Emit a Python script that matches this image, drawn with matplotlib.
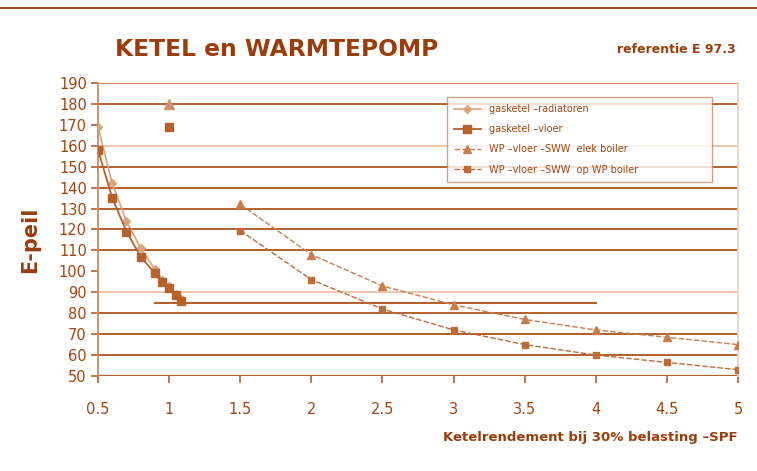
import matplotlib.pyplot as plt
import numpy as np

# ---- data
ketel_x = [0.5, 0.6, 0.7, 0.8, 0.9, 0.95, 1.0, 1.05, 1.08]
radiatoren = [169, 142, 124, 111, 101, 96, 93, 89, 87]
vloer = [158, 135, 119, 107, 99, 95, 92, 88.5, 86]

wp_x = [1.5, 2, 2.5, 3, 3.5, 4, 4.5, 5]
wp_elek = [132, 108, 93, 84, 77, 72, 68.5, 65]
wp_boiler = [119.5, 96, 82, 72, 65, 60, 56.5, 53]

# losse punten bij x=1
los_x = [1.0]
los_elek = [180]
los_boiler = [169]

# korte referentielijn
ref_x = [0.9, 4.0]
ref_y = [85, 85]

grid_dark = [180, 150, 140, 130, 120, 110, 80, 70, 60]
grid_light = [160, 90]

labels = ["gasketel \u2013radiatoren", "gasketel \u2013vloer",
          "WP \u2013vloer \u2013SWW  elek boiler", "WP \u2013vloer \u2013SWW  op WP boiler"]

text_brown = "#a0440f"

fig = plt.figure(figsize=(7.57, 4.71), dpi=100)
ax = fig.add_axes([0.1295, 0.2017, 0.8455, 0.6221])

for g in grid_dark:
    ax.axhline(g, color="#b0602e", lw=1.4, zorder=1)
for g in grid_light:
    ax.axhline(g, color="#e9c7ac", lw=1.4, zorder=1)
ax.axhline(190, color="#c98a60", lw=1.4, zorder=1)
ax.axhline(50, color="#b0602e", lw=1.6, zorder=1)

ax.plot(ref_x, ref_y, color="#b0602e", lw=1.5, zorder=2)

ax.plot(ketel_x, radiatoren, color="#dba47e", marker="D", ms=4, lw=1.2,
        label=labels[0], zorder=3)
ax.plot(ketel_x, vloer, color="#b4612c", marker="s", ms=6, lw=1.3,
        label=labels[1], zorder=4)
ax.plot(wp_x, wp_elek, color="#c77e4f", marker="^", ms=6, lw=1.0,
        ls=(0, (4, 1.5)), label=labels[2], zorder=3)
ax.plot(wp_x, wp_boiler, color="#bd6b3a", marker="s", ms=5, lw=1.0,
        ls=(0, (4, 1.5)), label=labels[3], zorder=3)
ax.plot(los_x, los_elek, color="#d09070", marker="^", ms=7, ls="none", zorder=3)
ax.plot(los_x, los_boiler, color="#b4612c", marker="s", ms=6, ls="none", zorder=3)

ax.set_xlim(0.5, 5)
ax.set_ylim(50, 190)
ax.set_xticks(np.arange(0.5, 5.01, 0.5))
ax.set_xticklabels(["0.5", "1", "1.5", "2", "2.5", "3", "3.5", "4", "4.5", "5"])
ax.set_yticks(np.arange(50, 191, 10))

for s in ["top", "bottom"]:
    ax.spines[s].set_visible(False)
ax.spines["left"].set_color("#c98a60")
ax.spines["left"].set_linewidth(1.3)
ax.spines["right"].set_color("#ecd0bc")
ax.spines["right"].set_linewidth(1.3)

ax.tick_params(axis="both", colors="#b0602e", labelcolor=text_brown,
               labelsize=10.5, length=5, width=1.2)
ax.tick_params(axis="x", pad=14)
ax.tick_params(axis="y", pad=3)

leg = ax.legend(loc="upper left", bbox_to_anchor=(0.537, 0.97, 0.43, 0.0),
                mode="expand", fontsize=7, frameon=True, fancybox=False,
                edgecolor="#c98a60", labelcolor=text_brown, handlelength=2.8,
                borderpad=0.75, labelspacing=1.05)
leg.get_frame().set_linewidth(1.0)

fig.text(0.152, 0.895, "KETEL en WARMTEPOMP", fontsize=16.8, fontweight="bold",
         color="#9a3c0b", ha="left", va="center")
fig.text(0.972, 0.895, "referentie E 97.3", fontsize=9, fontweight="bold",
         color="#9a3c0b", ha="right", va="center")
fig.text(0.04, 0.49, "E-peil", fontsize=15, fontweight="bold", color="#9a3c0b",
         rotation=90, ha="center", va="center")
fig.text(0.975, 0.072, "Ketelrendement bij 30% belasting \u2013SPF", fontsize=9.5,
         fontweight="bold", color="#9a3c0b", ha="right", va="center")

fig.add_artist(plt.Line2D([0, 1], [0.983, 0.983], color="#9a3c0b", lw=1.3))

fig.savefig("out.png", dpi=100, facecolor="white")
